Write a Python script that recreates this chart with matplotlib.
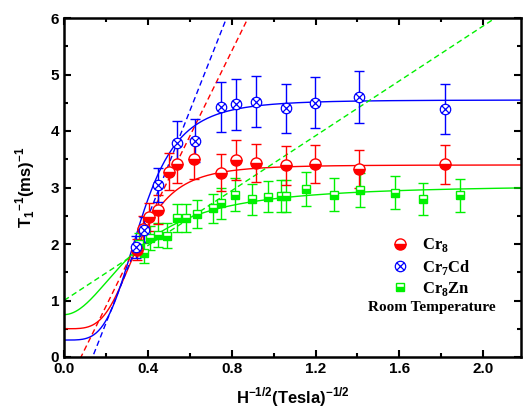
import numpy as np
import matplotlib
matplotlib.use('Agg')
import matplotlib.pyplot as plt
from matplotlib.path import Path
from matplotlib.lines import Line2D

plt.rcParams['font.family'] = 'Liberation Sans'
plt.rcParams['mathtext.fontset'] = 'custom'
plt.rcParams['mathtext.rm'] = 'Liberation Serif:bold'
plt.rcParams['mathtext.bf'] = 'Liberation Serif:bold'
plt.rcParams['mathtext.sf'] = 'Liberation Sans:bold'

# data
cr8_x = [0.346, 0.375, 0.406, 0.449, 0.501, 0.54, 0.622, 0.748, 0.82, 0.914, 1.057, 1.197, 1.405, 1.817]
cr8_y = [1.90, 2.27, 2.48, 2.61, 3.28, 3.42, 3.50, 3.26, 3.49, 3.43, 3.39, 3.42, 3.33, 3.41]
cr8_err = [0.19, 0.23, 0.25, 0.26, 0.33, 0.34, 0.35, 0.33, 0.35, 0.34, 0.34, 0.34, 0.33, 0.34]

cr7cd_x = [0.343, 0.381, 0.449, 0.54, 0.624, 0.748, 0.819, 0.914, 1.057, 1.197, 1.405, 1.817]
cr7cd_y = [1.95, 2.25, 3.05, 3.79, 3.83, 4.42, 4.47, 4.52, 4.40, 4.50, 4.60, 4.39]
cr7cd_err = [0.20, 0.22, 0.30, 0.38, 0.38, 0.44, 0.45, 0.45, 0.44, 0.45, 0.46, 0.44]

cr8zn_x = [0.36, 0.381, 0.41, 0.449, 0.489, 0.537, 0.58, 0.633, 0.71, 0.747, 0.818, 0.897,
           0.973, 1.037, 1.057, 1.156, 1.29, 1.41, 1.581, 1.714, 1.89]
cr8zn_y = [2.00, 1.84, 2.10, 2.16, 2.15, 2.46, 2.46, 2.53, 2.63, 2.72, 2.87, 2.79,
           2.84, 2.85, 2.85, 2.97, 2.87, 2.95, 2.91, 2.80, 2.86]
cr8zn_err = [0.20, 0.18, 0.21, 0.22, 0.22, 0.25, 0.25, 0.25, 0.26, 0.27, 0.29, 0.28,
             0.28, 0.29, 0.29, 0.30, 0.29, 0.30, 0.29, 0.28, 0.29]

# fit parameters (y0, plateau, x_c, exponent) and linear fits (slope, intercept)
fit_cr8 = (0.5, 3.4, 0.35, 4)
fit_cr7cd = (0.3, 4.55, 0.367, 4)
fit_cr8zn = (0.75, 3.05, 0.349, 2)
lin_cr8 = (7.53, -0.61)
lin_cr7cd = (9.39, -1.28)
lin_cr8zn = (2.43, 1.0)

red = '#ff0000'
blue = '#0000ff'
green = '#00f000'

circ = Path.unit_circle()
cross = Path([(-0.707, -0.707), (0.707, 0.707), (-0.707, 0.707), (0.707, -0.707)],
             [Path.MOVETO, Path.LINETO, Path.MOVETO, Path.LINETO])
circx = Path.make_compound_path(circ, cross)


def fit(x, p):
    y0, a, xc, m = p
    return y0 + (a - y0) / (1 + (xc / x) ** m)


fig = plt.figure(figsize=(5.24, 4.12), dpi=100)
ax = fig.add_axes([64/524, 55/412, 457/524, 339/412])

xx = np.linspace(0.001, 2.18, 400)
for p, c in [(fit_cr8, red), (fit_cr7cd, blue), (fit_cr8zn, green)]:
    ax.plot(xx, fit(xx, p), color=c, lw=1.0, zorder=2)
for (k, b), c in [(lin_cr8, red), (lin_cr7cd, blue), (lin_cr8zn, green)]:
    ax.plot(xx, k*xx + b, color=c, lw=1.0, ls=(0, (4, 2.5)), zorder=2)

ax.errorbar(cr8zn_x, cr8zn_y, yerr=cr8zn_err, fmt='s', color=green, ms=6,
            mec=green, mfc=green, fillstyle='bottom', mfcalt='white',
            capsize=3.5, elinewidth=1.0, capthick=1.0, zorder=3)
ax.errorbar(cr8_x, cr8_y, yerr=cr8_err, fmt='o', color=red, ms=8,
            mec=red, mfc=red, fillstyle='bottom', mfcalt='white',
            capsize=3.5, elinewidth=1.0, capthick=1.0, zorder=3)
ax.errorbar(cr7cd_x, cr7cd_y, yerr=cr7cd_err, fmt='none', ecolor=blue,
            capsize=3.5, elinewidth=1.0, capthick=1.0, zorder=3)
ax.plot(cr7cd_x, cr7cd_y, ls='none', marker=circx, ms=7.5, mec=blue, mfc='white',
        mew=0.9, zorder=4)

ax.set_xlim(0, 2.18)
ax.set_ylim(0, 6)
ax.set_xticks(np.arange(0, 2.01, 0.4))
ax.set_xticks(np.arange(0, 2.2, 0.2), minor=True)
ax.set_xticklabels(['0.0', '0.4', '0.8', '1.2', '1.6', '2.0'])
ax.set_yticks(range(7))
ax.set_yticks(np.arange(0, 6.01, 0.5), minor=True)
ax.tick_params(which='both', direction='in', top=True, right=True, width=1.5,
               labelsize=11)
ax.tick_params(which='major', length=5)
ax.tick_params(which='minor', length=3)
for lab in ax.get_xticklabels() + ax.get_yticklabels():
    lab.set_fontweight('bold')
for s in ax.spines.values():
    s.set_linewidth(1.8)

ax.set_xlabel(r'H$^{\mathsf{-1/2}}$(Tesla)$^{\mathsf{-1/2}}$', fontsize=12,
              fontweight='bold', labelpad=7)
ax.set_ylabel(r'T$_{\mathsf{1}}$$^{\mathsf{-1}}$(ms)$^{\mathsf{-1}}$', fontsize=12,
              fontweight='bold', labelpad=10)

handles = [
    Line2D([], [], ls='none', marker='o', ms=8, mec=red, mfc=red,
           fillstyle='bottom', mfcalt='white'),
    Line2D([], [], ls='none', marker=circx, ms=7.5, mec=blue, mfc='white', mew=0.9),
    Line2D([], [], ls='none', marker='s', ms=6, mec=green, mfc=green,
           fillstyle='bottom', mfcalt='white'),
]
labels = [r'Cr$_{8}$', r'Cr$_{7}$Cd', r'Cr$_{8}$Zn']
leg = ax.legend(handles, labels, loc='upper left', bbox_to_anchor=(0.685, 0.40),
                frameon=False, handlelength=1.0, handletextpad=0.8,
                labelspacing=0.2, prop={'family': 'Liberation Serif',
                                        'weight': 'bold', 'size': 12})
ax.text(0.805, 0.145, 'Room Temperature', transform=ax.transAxes, ha='center',
        va='center', fontsize=11, fontweight='bold', family='Liberation Serif')

fig.savefig('out.png', dpi=100)
